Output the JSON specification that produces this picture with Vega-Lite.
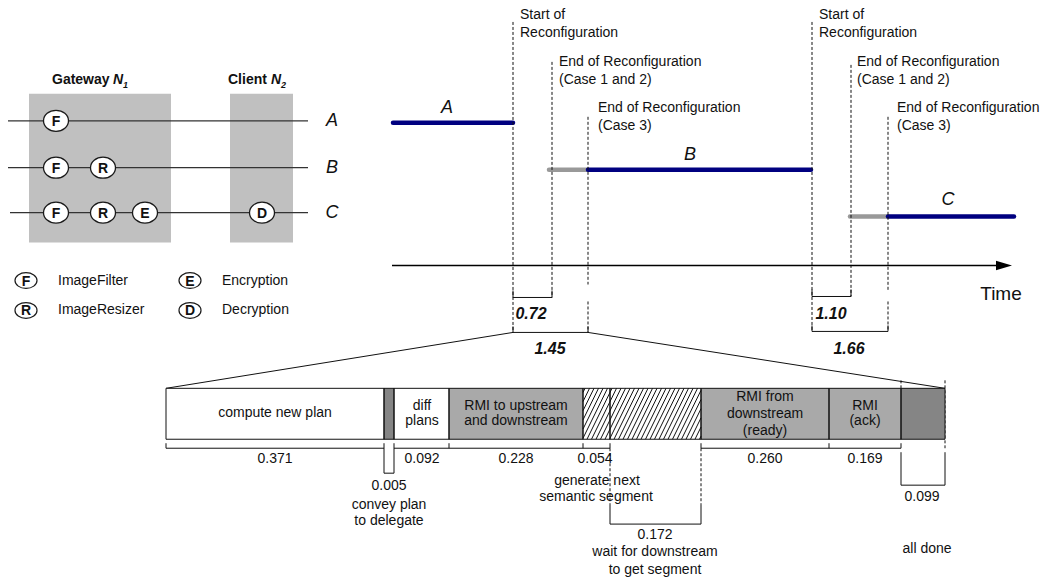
{
  "$schema": "https://vega.github.io/schema/vega-lite/v6.json",
  "width": 1041,
  "height": 577,
  "autosize": {"type": "fit", "contains": "padding"},
  "padding": 0,
  "background": "white",
  "config": {"view": {"stroke": null}, "font": "Liberation Sans"},
  "datasets": {
    "nodes": [
      {"node": "Gateway", "x": 29, "x2": 171, "y": 94, "y2": 243},
      {"node": "Client", "x": 230, "x2": 293, "y": 94, "y2": 243}
    ],
    "flows": [
      {"flow": "A", "x": 8, "x2": 308, "y": 121},
      {"flow": "B", "x": 8, "x2": 308, "y": 168},
      {"flow": "C", "x": 10, "x2": 308, "y": 213}
    ],
    "components": [
      {"flow": "A", "component": "F", "x": 56, "y": 121},
      {"flow": "B", "component": "F", "x": 56, "y": 168},
      {"flow": "B", "component": "R", "x": 103, "y": 168},
      {"flow": "C", "component": "F", "x": 56, "y": 213},
      {"flow": "C", "component": "R", "x": 103, "y": 213},
      {"flow": "C", "component": "E", "x": 145, "y": 213},
      {"flow": "C", "component": "D", "x": 262, "y": 213}
    ],
    "legend": [
      {"component": "F", "name": "ImageFilter", "x": 26, "y": 281},
      {"component": "R", "name": "ImageResizer", "x": 26, "y": 311},
      {"component": "E", "name": "Encryption", "x": 190, "y": 281},
      {"component": "D", "name": "Decryption", "x": 190, "y": 311}
    ],
    "nodeTitles": [
      {"word": "Gateway", "x": 52, "y": 80},
      {"word": "Client", "x": 228, "y": 80}
    ],
    "nodeIndex": [
      {"node": "Gateway", "symbol": "N", "index": "1", "x": 113, "y": 80},
      {"node": "Client", "symbol": "N", "index": "2", "x": 271, "y": 80}
    ],
    "flowLabels": [
      {"flow": "A", "x": 332, "y": 121},
      {"flow": "B", "x": 332, "y": 168},
      {"flow": "C", "x": 332, "y": 213},
      {"flow": "A", "x": 447, "y": 108},
      {"flow": "B", "x": 690, "y": 155},
      {"flow": "C", "x": 948, "y": 200}
    ],
    "timeline": [
      {"flow": "A", "state": "running", "x": 393, "x2": 513, "y": 123},
      {"flow": "B", "state": "switching", "x": 549, "x2": 588, "y": 170},
      {"flow": "B", "state": "running", "x": 588, "x2": 811, "y": 170},
      {"flow": "C", "state": "switching", "x": 850, "x2": 888, "y": 217},
      {"flow": "C", "state": "running", "x": 888, "x2": 1014, "y": 217}
    ],
    "guides": [
      {"x": 513, "y": 22, "x2": 513, "y2": 333},
      {"x": 552, "y": 62, "x2": 552, "y2": 298},
      {"x": 588, "y": 117, "x2": 588, "y2": 285},
      {"x": 588, "y": 302, "x2": 588, "y2": 333},
      {"x": 812, "y": 22, "x2": 812, "y2": 332},
      {"x": 851, "y": 65, "x2": 851, "y2": 297},
      {"x": 888, "y": 117, "x2": 888, "y2": 292},
      {"x": 888, "y": 302, "x2": 888, "y2": 332},
      {"x": 901, "y": 381, "x2": 901, "y2": 389},
      {"x": 945, "y": 381, "x2": 945, "y2": 449},
      {"x": 610, "y": 449, "x2": 610, "y2": 505},
      {"x": 701, "y": 449, "x2": 701, "y2": 505}
    ],
    "brackets": [
      {"x": 513, "y": 298, "x2": 552, "y2": 298},
      {"x": 513, "y": 291, "x2": 513, "y2": 298},
      {"x": 552, "y": 291, "x2": 552, "y2": 298},
      {"x": 513, "y": 333, "x2": 588, "y2": 333},
      {"x": 513, "y": 327, "x2": 513, "y2": 333},
      {"x": 588, "y": 327, "x2": 588, "y2": 333},
      {"x": 812, "y": 297, "x2": 851, "y2": 297},
      {"x": 812, "y": 290, "x2": 812, "y2": 297},
      {"x": 851, "y": 290, "x2": 851, "y2": 297},
      {"x": 812, "y": 332, "x2": 888, "y2": 332},
      {"x": 812, "y": 326, "x2": 812, "y2": 332},
      {"x": 888, "y": 326, "x2": 888, "y2": 332},
      {"x": 166, "y": 389, "x2": 513, "y2": 333},
      {"x": 588, "y": 333, "x2": 945, "y2": 389},
      {"x": 166, "y": 449, "x2": 384, "y2": 449},
      {"x": 394, "y": 449, "x2": 610, "y2": 449},
      {"x": 701, "y": 449, "x2": 901, "y2": 449},
      {"x": 166, "y": 444, "x2": 166, "y2": 449},
      {"x": 449, "y": 444, "x2": 449, "y2": 449},
      {"x": 583, "y": 444, "x2": 583, "y2": 449},
      {"x": 610, "y": 444, "x2": 610, "y2": 449},
      {"x": 701, "y": 444, "x2": 701, "y2": 449},
      {"x": 829, "y": 444, "x2": 829, "y2": 449},
      {"x": 901, "y": 444, "x2": 901, "y2": 449},
      {"x": 384, "y": 444, "x2": 384, "y2": 474},
      {"x": 394, "y": 444, "x2": 394, "y2": 474},
      {"x": 384, "y": 474, "x2": 394, "y2": 474},
      {"x": 610, "y": 505, "x2": 610, "y2": 525},
      {"x": 701, "y": 505, "x2": 701, "y2": 525},
      {"x": 610, "y": 525, "x2": 701, "y2": 525},
      {"x": 901, "y": 453, "x2": 901, "y2": 486},
      {"x": 945, "y": 453, "x2": 945, "y2": 486},
      {"x": 901, "y": 486, "x2": 945, "y2": 486}
    ],
    "timeAxis": [{"x": 392, "x2": 998, "y": 266}],
    "arrowHead": [{"x": 1004, "y": 266}],
    "phases": [
      {"phase": "compute new plan", "kind": "computation", "x": 166, "x2": 384, "y": 389, "y2": 440},
      {"phase": "convey plan to delegate", "kind": "handoff", "x": 384, "x2": 394, "y": 389, "y2": 440},
      {"phase": "diff plans", "kind": "computation", "x": 394, "x2": 449, "y": 389, "y2": 440},
      {"phase": "RMI to upstream and downstream", "kind": "communication", "x": 449, "x2": 583, "y": 389, "y2": 440},
      {"phase": "generate next semantic segment", "kind": "waiting", "x": 583, "x2": 610, "y": 389, "y2": 440},
      {"phase": "wait for downstream to get segment", "kind": "waiting", "x": 610, "x2": 701, "y": 389, "y2": 440},
      {"phase": "RMI from downstream (ready)", "kind": "communication", "x": 701, "x2": 829, "y": 389, "y2": 440},
      {"phase": "RMI (ack)", "kind": "communication", "x": 829, "x2": 901, "y": 389, "y2": 440},
      {"phase": "all done", "kind": "handoff", "x": 901, "x2": 945, "y": 389, "y2": 440}
    ],
    "hatch": [
      {"x": 583, "y": 393.1, "x2": 585, "y2": 389},
      {"x": 583, "y": 402.3, "x2": 589.5, "y2": 389},
      {"x": 583, "y": 411.4, "x2": 594, "y2": 389},
      {"x": 583, "y": 420.6, "x2": 598.5, "y2": 389},
      {"x": 583, "y": 429.8, "x2": 603, "y2": 389},
      {"x": 583, "y": 439.0, "x2": 607.5, "y2": 389},
      {"x": 587, "y": 440, "x2": 612, "y2": 389},
      {"x": 591.5, "y": 440, "x2": 616.5, "y2": 389},
      {"x": 596, "y": 440, "x2": 621, "y2": 389},
      {"x": 600.5, "y": 440, "x2": 625.5, "y2": 389},
      {"x": 605, "y": 440, "x2": 630, "y2": 389},
      {"x": 609.5, "y": 440, "x2": 634.5, "y2": 389},
      {"x": 614, "y": 440, "x2": 639, "y2": 389},
      {"x": 618.5, "y": 440, "x2": 643.5, "y2": 389},
      {"x": 623, "y": 440, "x2": 648, "y2": 389},
      {"x": 627.5, "y": 440, "x2": 652.5, "y2": 389},
      {"x": 632, "y": 440, "x2": 657, "y2": 389},
      {"x": 636.5, "y": 440, "x2": 661.5, "y2": 389},
      {"x": 641, "y": 440, "x2": 666, "y2": 389},
      {"x": 645.5, "y": 440, "x2": 670.5, "y2": 389},
      {"x": 650, "y": 440, "x2": 675, "y2": 389},
      {"x": 654.5, "y": 440, "x2": 679.5, "y2": 389},
      {"x": 659, "y": 440, "x2": 684, "y2": 389},
      {"x": 663.5, "y": 440, "x2": 688.5, "y2": 389},
      {"x": 668, "y": 440, "x2": 693, "y2": 389},
      {"x": 672.5, "y": 440, "x2": 697.5, "y2": 389},
      {"x": 677, "y": 440, "x2": 701, "y2": 391.0},
      {"x": 681.5, "y": 440, "x2": 701, "y2": 400.2},
      {"x": 686, "y": 440, "x2": 701, "y2": 409.4},
      {"x": 690.5, "y": 440, "x2": 701, "y2": 418.6},
      {"x": 695, "y": 440, "x2": 701, "y2": 427.8},
      {"x": 699.5, "y": 440, "x2": 701, "y2": 436.9}
    ],
    "phaseText": [
      {"text": "compute new plan", "x": 275, "y": 414},
      {"text": "diff", "x": 422, "y": 407},
      {"text": "plans", "x": 422, "y": 422},
      {"text": "RMI to upstream", "x": 516, "y": 407},
      {"text": "and downstream", "x": 516, "y": 422},
      {"text": "RMI from", "x": 765, "y": 398},
      {"text": "downstream", "x": 765, "y": 415},
      {"text": "(ready)", "x": 765, "y": 432},
      {"text": "RMI", "x": 865, "y": 407},
      {"text": "(ack)", "x": 865, "y": 422},
      {"text": "0.371", "x": 275, "y": 460},
      {"text": "0.092", "x": 422, "y": 460},
      {"text": "0.228", "x": 516, "y": 460},
      {"text": "0.054", "x": 595, "y": 460},
      {"text": "0.260", "x": 765, "y": 460},
      {"text": "0.169", "x": 865, "y": 460},
      {"text": "0.005", "x": 389, "y": 487},
      {"text": "convey plan", "x": 389, "y": 506},
      {"text": "to delegate", "x": 389, "y": 522},
      {"text": "generate next", "x": 597, "y": 482},
      {"text": "semantic segment", "x": 596, "y": 498},
      {"text": "0.172", "x": 655, "y": 536},
      {"text": "wait for downstream", "x": 655, "y": 553},
      {"text": "to get segment", "x": 655, "y": 571},
      {"text": "0.099", "x": 922, "y": 498},
      {"text": "all done", "x": 927, "y": 550}
    ],
    "eventText": [
      {"text": "Start of", "x": 520, "y": 15},
      {"text": "Reconfiguration", "x": 520, "y": 33},
      {"text": "End of Reconfiguration", "x": 559, "y": 62},
      {"text": "(Case 1 and 2)", "x": 559, "y": 80},
      {"text": "End of Reconfiguration", "x": 598, "y": 108},
      {"text": "(Case 3)", "x": 598, "y": 126},
      {"text": "Start of", "x": 819, "y": 15},
      {"text": "Reconfiguration", "x": 819, "y": 33},
      {"text": "End of Reconfiguration", "x": 857, "y": 62},
      {"text": "(Case 1 and 2)", "x": 857, "y": 80},
      {"text": "End of Reconfiguration", "x": 897, "y": 108},
      {"text": "(Case 3)", "x": 897, "y": 126}
    ],
    "durations": [
      {"text": "0.72", "x": 531, "y": 315},
      {"text": "1.45", "x": 550, "y": 350},
      {"text": "1.10", "x": 831, "y": 315},
      {"text": "1.66", "x": 849, "y": 350}
    ],
    "axisTitle": [{"text": "Time", "x": 1001, "y": 295}]
  },
  "encoding": {
    "x": {"field": "x", "type": "quantitative", "scale": {"domain": [0, 1041], "nice": false, "zero": false}, "axis": null},
    "y": {"field": "y", "type": "quantitative", "scale": {"domain": [0, 577], "nice": false, "zero": false, "reverse": true}, "axis": null}
  },
  "layer": [
    {"data": {"name": "nodes"}, "mark": {"type": "rect", "fill": "#c0c0c0"},
     "encoding": {"x2": {"field": "x2"}, "y2": {"field": "y2"}}},
    {"data": {"name": "flows"}, "mark": {"type": "rule", "color": "#333333", "strokeWidth": 1.3},
     "encoding": {"x2": {"field": "x2"}}},
    {"data": {"name": "components"}, "mark": {"type": "point", "filled": true, "fill": "white", "stroke": "#1a1a1a", "strokeWidth": 1.3, "size": 625, "opacity": 1,
       "shape": "M -1 0 C -1 -0.464 -0.552 -0.84 0 -0.84 C 0.552 -0.84 1 -0.464 1 0 C 1 0.464 0.552 0.84 0 0.84 C -0.552 0.84 -1 0.464 -1 0 Z"},
     "encoding": {}},
    {"data": {"name": "components"}, "mark": {"type": "text", "fontWeight": "bold", "fontSize": 14, "color": "#111", "align": "center", "baseline": "middle", "dy": 1},
     "encoding": {"text": {"field": "component"}}},
    {"data": {"name": "legend"}, "mark": {"type": "point", "filled": true, "fill": "white", "stroke": "#1a1a1a", "strokeWidth": 1.2, "size": 484, "opacity": 1,
       "shape": "M -1 0 C -1 -0.398 -0.552 -0.72 0 -0.72 C 0.552 -0.72 1 -0.398 1 0 C 1 0.398 0.552 0.72 0 0.72 C -0.552 0.72 -1 0.398 -1 0 Z"},
     "encoding": {}},
    {"data": {"name": "legend"}, "mark": {"type": "text", "fontWeight": "bold", "fontSize": 14, "color": "#111", "align": "center", "baseline": "middle", "dy": 1},
     "encoding": {"text": {"field": "component"}}},
    {"data": {"name": "legend"}, "mark": {"type": "text", "fontSize": 14, "color": "#111", "align": "left", "baseline": "middle", "dx": 32},
     "encoding": {"text": {"field": "name"}}},
    {"data": {"name": "nodeTitles"}, "mark": {"type": "text", "fontWeight": "bold", "fontSize": 14, "color": "#111", "align": "left", "baseline": "middle"},
     "encoding": {"text": {"field": "word"}}},
    {"data": {"name": "nodeIndex"}, "mark": {"type": "text", "fontWeight": "bold", "fontStyle": "italic", "fontSize": 14, "color": "#111", "align": "left", "baseline": "middle"},
     "encoding": {"text": {"field": "symbol"}}},
    {"data": {"name": "nodeIndex"}, "mark": {"type": "text", "fontWeight": "bold", "fontStyle": "italic", "fontSize": 9, "color": "#111", "align": "left", "baseline": "middle", "dx": 10, "dy": 5},
     "encoding": {"text": {"field": "index"}}},
    {"data": {"name": "flowLabels"}, "mark": {"type": "text", "fontStyle": "italic", "fontSize": 18, "color": "#111", "align": "center", "baseline": "middle"},
     "encoding": {"text": {"field": "flow"}}},
    {"data": {"name": "timeline"}, "mark": {"type": "rule", "strokeWidth": 4.5, "strokeCap": "round"},
     "encoding": {"x2": {"field": "x2"},
       "color": {"field": "state", "type": "nominal", "scale": {"domain": ["running", "switching"], "range": ["#000080", "#999999"]}, "legend": null}}},
    {"data": {"name": "guides"}, "mark": {"type": "rule", "color": "#111", "strokeWidth": 1, "strokeDash": [3, 2]},
     "encoding": {"x2": {"field": "x2"}, "y2": {"field": "y2"}}},
    {"data": {"name": "brackets"}, "mark": {"type": "rule", "color": "#111", "strokeWidth": 1},
     "encoding": {"x2": {"field": "x2"}, "y2": {"field": "y2"}}},
    {"data": {"name": "timeAxis"}, "mark": {"type": "rule", "color": "#000", "strokeWidth": 1.6},
     "encoding": {"x2": {"field": "x2"}}},
    {"data": {"name": "arrowHead"}, "mark": {"type": "point", "filled": true, "fill": "#000", "strokeWidth": 0, "size": 256, "opacity": 1,
       "shape": "M 1 0 L -1 -0.6 L -1 0.6 Z"},
     "encoding": {}},
    {"data": {"name": "phases"}, "mark": {"type": "rect", "strokeWidth": 0},
     "encoding": {"x2": {"field": "x2"}, "y2": {"field": "y2"},
       "fill": {"field": "kind", "type": "nominal", "scale": {"domain": ["computation", "handoff", "communication", "waiting"], "range": ["#ffffff", "#858585", "#a9a9a9", "#ffffff"]}, "legend": null}}},
    {"data": {"name": "hatch"}, "mark": {"type": "rule", "color": "#111", "strokeWidth": 1},
     "encoding": {"x2": {"field": "x2"}, "y2": {"field": "y2"}}},
    {"data": {"name": "phases"}, "mark": {"type": "rect", "fillOpacity": 0, "stroke": "#111", "strokeWidth": 1},
     "encoding": {"x2": {"field": "x2"}, "y2": {"field": "y2"}}},
    {"data": {"name": "phaseText"}, "mark": {"type": "text", "fontSize": 14, "color": "#111", "align": "center", "baseline": "middle"},
     "encoding": {"text": {"field": "text"}}},
    {"data": {"name": "eventText"}, "mark": {"type": "text", "fontSize": 14, "color": "#111", "align": "left", "baseline": "middle"},
     "encoding": {"text": {"field": "text"}}},
    {"data": {"name": "durations"}, "mark": {"type": "text", "fontSize": 16, "fontWeight": "bold", "fontStyle": "italic", "color": "#111", "align": "center", "baseline": "middle"},
     "encoding": {"text": {"field": "text"}}},
    {"data": {"name": "axisTitle"}, "mark": {"type": "text", "fontSize": 19, "color": "#111", "align": "center", "baseline": "middle"},
     "encoding": {"text": {"field": "text"}}}
  ]
}
